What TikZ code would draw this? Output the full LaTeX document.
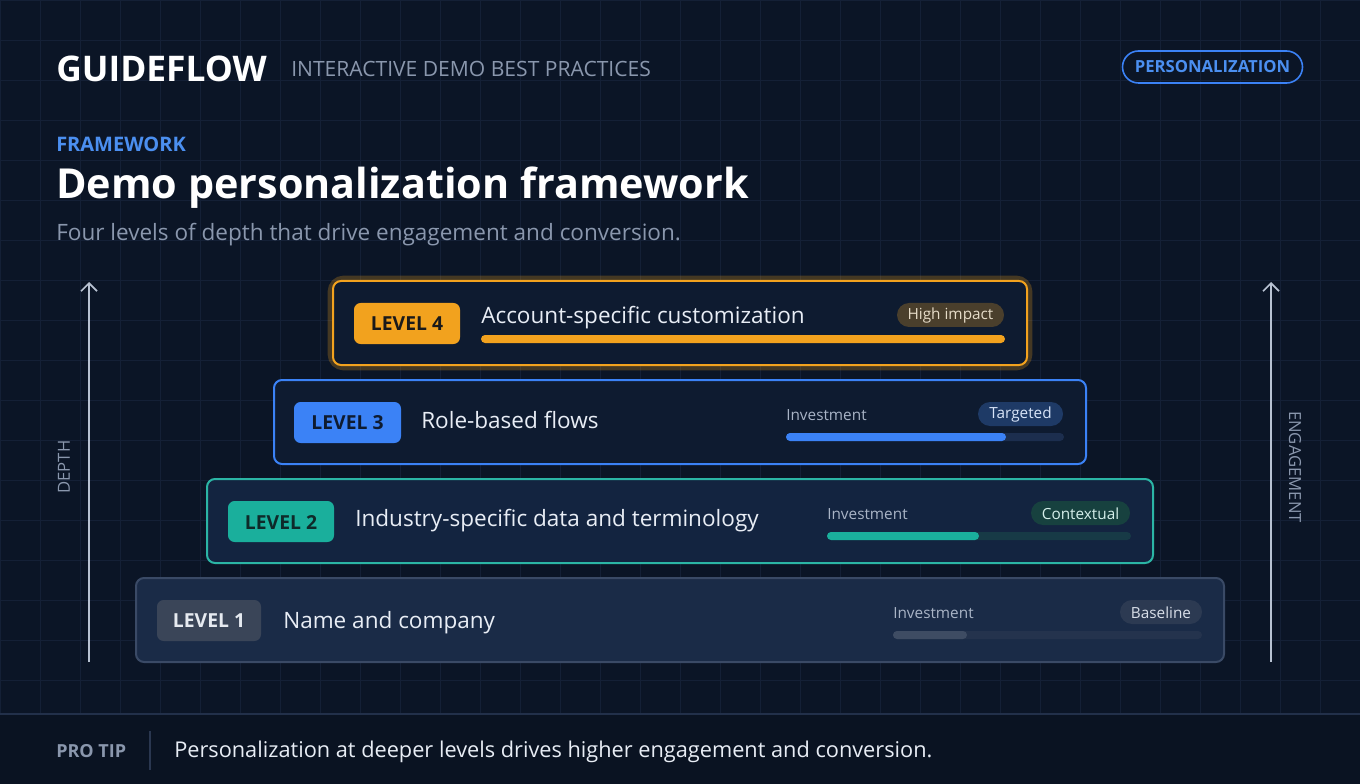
\documentclass[tikz,border=0pt]{standalone}
\usepackage{fontspec}
\setmainfont{Open Sans}
\usetikzlibrary{arrows.meta}
\definecolor{bg}{HTML}{0B1526}
\definecolor{gridc}{HTML}{142036}
\definecolor{cardbg}{HTML}{0E1B30}
\definecolor{muted}{HTML}{8A97AD}
\definecolor{blueA}{HTML}{3B82F6}
\definecolor{blueT}{HTML}{4B8FF0}
\definecolor{orangeA}{HTML}{F2A21E}
\definecolor{tealA}{HTML}{1AAF9C}
\definecolor{tealB}{HTML}{2BB5A5}
\definecolor{grayB}{HTML}{3A4A66}
\definecolor{l1bg}{HTML}{1A2B47}
\definecolor{l2bg}{HTML}{132440}
\definecolor{txt}{HTML}{E8EDF5}
\definecolor{footbg}{HTML}{0A1322}
\definecolor{footln}{HTML}{22304A}
\definecolor{axisc}{HTML}{B8C2D2}
\definecolor{darktxt}{HTML}{1A1A1A}
\definecolor{p4bg}{HTML}{4A3F2C}
\definecolor{p4t}{HTML}{E6DCC8}
\definecolor{invc}{HTML}{A9B4C6}
\definecolor{p3bg}{HTML}{1E3A66}
\definecolor{p3t}{HTML}{D8E4F8}
\definecolor{tr3}{HTML}{1C2E4E}
\definecolor{b2t}{HTML}{0E2A2A}
\definecolor{p2bg}{HTML}{17413F}
\definecolor{p2t}{HTML}{D4EEEA}
\definecolor{tr2}{HTML}{173A46}
\definecolor{b1bg}{HTML}{3A4558}
\definecolor{b1t}{HTML}{E6EAF0}
\definecolor{p1bg}{HTML}{2C3A52}
\definecolor{p1t}{HTML}{D8DEE8}
\definecolor{tr1}{HTML}{24334D}
\definecolor{f1}{HTML}{3E4C63}
\definecolor{sep}{HTML}{2A3750}
\tikzset{
 px/.style={x=0.75pt,y=-0.75pt},
 fs/.style={font=\fontsize{#1}{#1}\selectfont},
 card/.style={rounded corners=6pt,line width=1.5pt},
 badge/.style={rounded corners=5pt},
 pill/.style={rounded corners=9pt},
 lbl/.style={anchor=west,inner sep=0pt},
}
\begin{document}
\begin{tikzpicture}[px]
\useasboundingbox (0,0) rectangle (1360,784);
\fill[bg] (0,0) rectangle (1360,784);
\foreach \x in {0,40,...,1360} \draw[gridc,line width=0.4pt] (\x,0) -- (\x,714);
\foreach \y in {0,40,...,700} \draw[gridc,line width=0.4pt] (0,\y) -- (1360,\y);
% footer
\fill[footbg] (0,714) rectangle (1360,784);
\draw[footln,line width=0.8pt] (0,714) -- (1360,714);
% header
\node[lbl,fs=26.5,white] (brand) at (56,69) {\bfseries GUIDEFLOW};
\node[lbl,fs=15.8,muted] (sub) at (291,69) {INTERACTIVE DEMO BEST PRACTICES};
\node[draw=blueA,line width=1.2pt,rounded corners=12pt,minimum width=135pt,minimum height=24pt,fs=12.5,text=blueT,inner sep=0pt] (tag) at (1212.5,67) {\bfseries PERSONALIZATION};
\node[lbl,fs=15,blueT] (fw) at (56,144) {\bfseries FRAMEWORK};
\node[lbl,fs=31,white] (title) at (56,188) {\bfseries Demo personalization framework};
\node[lbl,fs=16.9,muted] (st) at (56,235) {Four levels of depth that drive engagement and conversion.};
% axes
\coordinate (la) at (89,662); \coordinate (lb) at (89,282);
\coordinate (ra) at (1271,662); \coordinate (rb) at (1271,282);
\draw[axisc,line width=1.3pt,-{Straight Barb[length=6pt,width=12pt]}] (la) -- (lb);
\draw[axisc,line width=1.3pt,-{Straight Barb[length=6pt,width=12pt]}] (ra) -- (rb);
\node[fs=12.5,muted,rotate=90] (depth) at (64,467) {DEPTH};
\node[fs=12.5,muted,rotate=-90] (eng) at (1295,467) {ENGAGEMENT};
% Level 4
\draw[orangeA,opacity=0.25,line width=8pt,rounded corners=8pt] (333,281) rectangle (1027,365);
\draw[card,draw=orangeA,fill=cardbg] (333,281) rectangle (1027,365);
\fill[badge,orangeA] (354,303) rectangle (460,344);
\node[fs=14.5,darktxt] (b4) at (407,324) {\bfseries LEVEL 4};
\node[lbl,fs=16.9,txt] (t4) at (481,318) {Account-specific customization};
\fill[pill,p4bg] (897,303) rectangle (1004,327);
\node[fs=11.5,p4t] (p4) at (950.5,315.5) {High impact};
\fill[orangeA,rounded corners=3pt] (481,335) rectangle (1005,343);
% Level 3
\draw[card,draw=blueA,fill=cardbg] (274,380) rectangle (1086,464);
\fill[badge,blueA] (294,402) rectangle (401,443);
\node[fs=14.5,cardbg] (b3) at (347.5,423) {\bfseries LEVEL 3};
\node[lbl,fs=16.9,txt] (t3) at (421,420) {Role-based flows};
\node[lbl,fs=11.5,invc] (i3) at (786,415) {Investment};
\fill[pill,p3bg] (978,402) rectangle (1063,426);
\node[fs=11.5,p3t] (p3) at (1020.5,414.5) {Targeted};
\fill[tr3,rounded corners=3pt] (786,433) rectangle (1064,441);
\fill[blueA,rounded corners=3pt] (786,433) rectangle (1006,441);
% Level 2
\draw[card,draw=tealB,fill=l2bg] (207,479) rectangle (1153,563);
\fill[badge,tealA] (228,501) rectangle (334,542);
\node[fs=14.5,b2t] (b2) at (281,522) {\bfseries LEVEL 2};
\node[lbl,fs=16.9,txt] (t2) at (355,521) {Industry-specific data and terminology};
\node[lbl,fs=11.5,invc] (i2) at (827,514) {Investment};
\fill[pill,p2bg] (1031,501) rectangle (1130,525);
\node[fs=11.5,p2t] (p2) at (1080.5,513.5) {Contextual};
\fill[tr2,rounded corners=3pt] (827,532) rectangle (1131,540);
\fill[tealA,rounded corners=3pt] (827,532) rectangle (979,540);
% Level 1
\draw[card,draw=grayB,fill=l1bg] (136,578) rectangle (1224,662);
\fill[badge,b1bg] (157,600) rectangle (261,641);
\node[fs=14.5,b1t] (b1) at (209,621) {\bfseries LEVEL 1};
\node[lbl,fs=16.9,txt] (t1) at (283,623) {Name and company};
\node[lbl,fs=11.5,invc] (i1) at (893,613) {Investment};
\fill[pill,p1bg] (1120,600) rectangle (1202,624);
\node[fs=11.5,p1t] (p1) at (1161,612.5) {Baseline};
\fill[tr1,rounded corners=3pt] (893,631) rectangle (1202,639);
\fill[f1,rounded corners=3pt] (893,631) rectangle (967,639);
% footer text
\node[lbl,fs=13.5,muted] (pro) at (56,751) {\bfseries PRO TIP};
\draw[sep,line width=1pt] (150,731) -- (150,770);
\node[lbl,fs=16.3,txt] (tip) at (174,752) {Personalization at deeper levels drives higher engagement and conversion.};
\end{tikzpicture}
\end{document}
